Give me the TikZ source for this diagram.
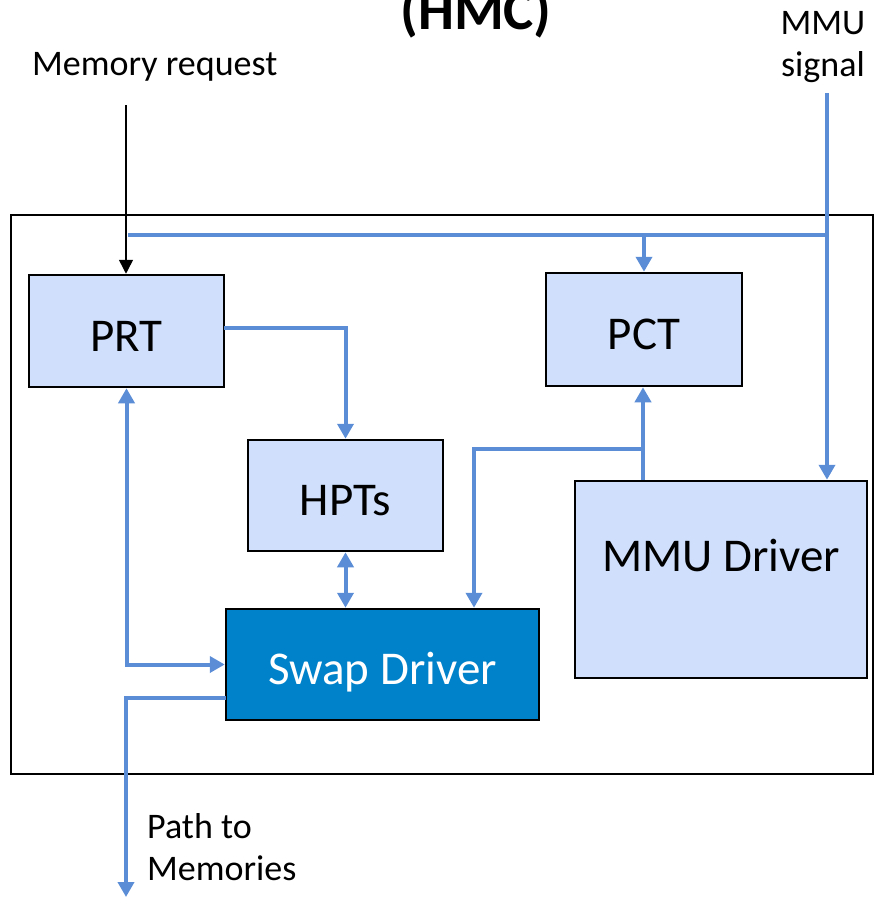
\documentclass[tikz,border=0pt]{standalone}
\usepackage{fontspec}
\setmainfont{Carlito}
\usetikzlibrary{arrows.meta}
\definecolor{boxfill}{RGB}{207,223,252}
\definecolor{swapfill}{RGB}{0,130,202}
\definecolor{wire}{RGB}{90,141,213}
\tikzset{
  unit/.style={draw=black, line width=2.5pt, fill=boxfill, inner sep=0pt,
    text height=40pt, text depth=0pt, font=\fontsize{47}{52}\selectfont},
  wireline/.style={draw=wire, line width=4pt},
  wirearrow/.style={wireline, -{Triangle[width=16pt,length=15pt]}},
  wirebiarrow/.style={wireline, {Triangle[width=16pt,length=15pt]}-{Triangle[width=16pt,length=15pt]}},
  reqarrow/.style={draw=black, line width=1.5pt, -{Triangle[width=14pt,length=14pt]}},
  caption/.style={font=\fontsize{36}{42}\selectfont, inner sep=0pt},
}
\begin{document}
\begin{tikzpicture}[x=1pt, y=-1pt]
\useasboundingbox (0,0) rectangle (875,899);
\clip (0,0) rectangle (875,899);

% controller frame and title
\draw[black, line width=2pt] (11,215) rectangle (873,774);
\node[font=\bfseries\fontsize{57}{62}\selectfont, anchor=base, inner sep=0pt] (title) at (476,30) {(HMC)};

% units
\node[unit, minimum width=195pt, minimum height=112pt] (prt) at (126.5,331) {PRT};
\node[unit, minimum width=196pt, minimum height=113pt] (pct) at (644,329.5) {PCT};
\node[unit, minimum width=195pt, minimum height=111pt] (hpt) at (345.5,495.5) {HPTs};
\node[unit, fill=swapfill, text=white, minimum width=313pt, minimum height=111pt] (swap) at (382.5,664.5) {Swap Driver};
\node[unit, minimum width=292pt, minimum height=197pt,
  label={[font=\fontsize{47}{52}\selectfont, yshift=24pt]center:MMU Driver}] (mmu) at (721,579.5) {};

% external labels
\node[caption, anchor=base west] (reqtext) at (32,75) {Memory request};
\node[caption, align=center, anchor=base] (sigtext) at (823,77) {MMU\\signal};
\node[caption, align=left, anchor=base west] (pathtext) at (147,880) {Path to\\Memories};

% free ends of the external connectors
\coordinate (req) at (126,105);
\coordinate (sig) at (827,93);
\coordinate (busR) at (827,235);
\coordinate (busL) at (128,235);
\coordinate (busPCT) at (644,235);
\coordinate (out) at (126,897);
\coordinate (mmuTap) at (643,449);
\coordinate (swapTap) at (474,449);
\coordinate (prtOut) at (224,328);
\coordinate (swapOut) at (226,698);

% memory request into PRT
\draw[reqarrow] (req) -- (req |- prt.north);

% MMU signal into the MMU driver, and its branch to PCT
\draw[wirearrow] (sig) -- (sig |- mmu.north);
\draw[wireline] (busR) -- (busL);
\draw[wirearrow] (busPCT) -- (pct.north);

% PRT to HPTs
\draw[wirearrow] (prtOut) -| (hpt.north);

% PRT <-> swap driver
\draw[wirebiarrow] (prt.south) |- (swap.west);

% HPTs <-> swap driver
\draw[wirebiarrow] (hpt.south) -- (hpt.south |- swap.north);

% MMU driver to PCT and to the swap driver
\draw[wirearrow] (mmuTap |- mmu.north) -- (mmuTap |- pct.south);
\draw[wirearrow] (mmuTap) -- (swapTap) -- (swapTap |- swap.north);

% path to memories
\draw[wirearrow] (swapOut) -| (out);
\end{tikzpicture}
\end{document}
